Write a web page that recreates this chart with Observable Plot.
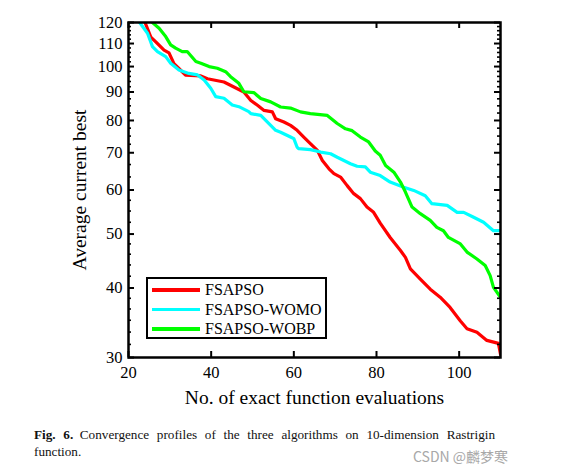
<!DOCTYPE html>
<html>
<head>
<meta charset="utf-8">
<script src="https://cdn.jsdelivr.net/npm/d3@7"></script>
<script src="https://cdn.jsdelivr.net/npm/@observablehq/plot@0.6"></script>
<style>
  html, body { margin: 0; padding: 0; background: #fff; }
  #wrap { position: relative; width: 567px; height: 473px; background: #fff; }
  #legend { position: absolute; left: 146px; top: 277px; width: 181px; height: 62px; box-sizing: border-box;
            border: 2.5px solid #000; background: #fff; font-family: "Liberation Serif", serif; font-size: 16px; }
  .row { position: absolute; left: 4px; height: 20px; display: flex; align-items: center; }
  .sw { width: 48px; height: 3.2px; margin-right: 5px; }
  .cap { position: absolute; font-family: "Liberation Serif", serif; font-size: 13.2px; line-height: 17px; color: #111; white-space: nowrap; }
  #cap1 { left: 34px; top: 426px; width: 461px; text-align: justify; text-align-last: justify; white-space: normal; }
  #cap2 { left: 34px; top: 443px; }
  #wm { position: absolute; left: 413px; top: 446px; font-family: "Noto Sans CJK SC", sans-serif; font-size: 14px; color: #a8a8a8; }
</style>
</head>
<body>
<div id="wrap"></div>
<script>
// ---- data ----
const seriesNames = ["FSAPSO", "FSAPSO-WOMO", "FSAPSO-WOBP"];
const seriesColors = ["#ff0000", "#00ffff", "#00ff00"];

const fsapsoX = [24,25.4,26.6,28.6,29.8,31,32.2,33.8,37.5,39.1,43.1,45.5,47.9,49.6,51.2,52.8,54.8,55.6,57.6,59.2,60.8,62.4,64,65.7,66.9,68.5,69.7,71.3,72.9,74.5,76.1,77.7,79.3,80.9,83.3,85.8,87,88.2,90.6,93,95.4,97.8,100.3,101.9,104.3,106.7,109.5,110];
const fsapsoY = [120,113,110.7,107,105.8,101.2,99.2,96.5,96.2,95.1,93.8,91.9,90,86.9,85.2,83.4,82.9,80.6,79.5,78.4,76.8,74.7,72.7,70.7,67.8,65.5,64.2,63.3,61.1,59.1,57.9,55.9,54.7,52.3,49.3,46.7,45.4,43.3,41.5,39.8,38.5,36.9,34.9,33.8,33.3,32.2,31.8,30.4];

const womoX = [22.7,24.6,25.8,27,29,30.2,32.2,34.6,36.7,38.3,39.9,41.1,43.1,45.1,46.7,49.1,49.6,52,54.4,55.6,56.8,59.2,60,60.8,61.2,64,66.5,68.9,70.5,72.1,73.7,75.3,77.3,78.5,80.9,83.3,86.6,89,91.8,93.4,97.1,99.5,101.1,103.5,105.9,108.3,110];
const womoY = [120,114.8,108.6,106.4,104.2,101.4,98.6,97.2,96.6,94.6,91.4,88.3,87.7,85.3,84.7,83,82.3,81.7,78.4,76.8,76.2,74.7,74.2,71.6,71.2,70.9,70.2,69.7,68.7,67.8,66.9,66.2,66,64.6,63.7,62,60.7,59.9,58.6,56.7,56.3,54.7,54.7,53.6,52.5,50.7,50.7];

const wobpX = [25.8,27.4,29,30.2,31.4,33,34.2,36.3,37.5,39.5,41.5,43.5,44.7,46.7,47.9,50.3,52,54.4,56.8,59.2,61.6,64,68.1,70.5,72.5,74.1,76.1,78.1,79.7,80.9,82.2,84.2,85.8,87,88.6,90.6,93,94.6,96.2,97.4,100.3,101.9,104.3,106.3,107.5,108.3,110];
const wobpY = [120,117.2,113.2,109.4,107.9,106.4,106.4,102.1,101.4,100,99.3,97.9,95.9,93.3,90.1,89.8,87.6,86.4,84.6,84.2,82.9,82.3,81.7,79,77.3,76.7,74.7,73.2,70.5,69.3,66.4,64.6,62,59.5,55.9,54.4,52.9,51.4,50.7,49.3,48,46.4,45.1,43.9,42.1,40.1,38.5];

const xTicks = [20, 40, 60, 80, 100];
const yTicks = [30, 40, 50, 60, 70, 80, 90, 100, 110, 120];
const yMinorTicks = [31.67,33.33,35,36.67,38.33,42,44,46,48,52.5,55,57.5,63.33,66.67,72.5,75,77.5,82.5,85,87.5,92,94,96,98,102,104,106,108,112,114,116,118];

const xLabel = "No. of exact function evaluations";
const yLabel = "Average current best";
const captionBold = "Fig. 6.";
const captionLine1 = "Convergence profiles of the three algorithms on 10-dimension Rastrigin";
const captionLine2 = "function.";
const watermark = "CSDN @麟梦寒";

// ---- build table ----
const rows = [];
[[fsapsoX, fsapsoY], [womoX, womoY], [wobpX, wobpY]].forEach(([xs, ys], i) => {
  xs.forEach((x, j) => rows.push({series: seriesNames[i], x, y: ys[j]}));
});

const W = 567, H = 410, mL = 128, mT = 22, mR = 67, mB = 53;
const frameW = W - mL - mR, frameH = H - mT - mB;
const serif = "Liberation Serif";
const majLen = 6, minLen = 3;

const chart = Plot.plot({
  width: W, height: H,
  marginLeft: mL, marginTop: mT, marginRight: mR, marginBottom: mB,
  style: {fontFamily: serif, background: "#fff", color: "#000"},
  x: {domain: [20, 110]},
  y: {type: "log", domain: [30, 120]},
  color: {domain: seriesNames, range: seriesColors},
  marks: [
    Plot.line(rows, {x: "x", y: "y", z: "series", stroke: "series", strokeWidth: 3.2, strokeLinejoin: "round", clip: true}),
    Plot.tickX(xTicks, {x: d => d, insetTop: frameH - majLen, stroke: "#000", strokeWidth: 2}),
    Plot.tickX(xTicks, {x: d => d, insetBottom: frameH - majLen, stroke: "#000", strokeWidth: 2}),
    Plot.tickY(yTicks, {y: d => d, insetRight: frameW - majLen, stroke: "#000", strokeWidth: 2}),
    Plot.tickY(yTicks, {y: d => d, insetLeft: frameW - majLen, stroke: "#000", strokeWidth: 2}),
    Plot.tickY(yMinorTicks, {y: d => d, insetRight: frameW - minLen, stroke: "#000", strokeWidth: 1.6}),
    Plot.tickY(yMinorTicks, {y: d => d, insetLeft: frameW - minLen, stroke: "#000", strokeWidth: 1.6}),
    Plot.frame({stroke: "#000", strokeWidth: 2.5}),
    Plot.axisX(xTicks, {anchor: "bottom", tickSize: 0, tickPadding: 9, fontSize: 16.5, fontFamily: serif, label: null, tickFormat: d => String(d)}),
    Plot.axisY(yTicks, {anchor: "left", tickSize: 0, tickPadding: 6, fontSize: 16.5, fontFamily: serif, label: null, tickFormat: d => String(d)}),
    Plot.text([xLabel], {text: d => d, frameAnchor: "bottom", dy: 40, lineAnchor: "middle", textAnchor: "middle", fontSize: 19.5, fontFamily: serif, fill: "#000"}),
    Plot.text([yLabel], {text: d => d, frameAnchor: "left", dx: -49, rotate: -90, lineAnchor: "middle", textAnchor: "middle", fontSize: 19.5, fontFamily: serif, fill: "#000"})
  ]
});

d3.select(chart).selectAll("text").style("font-family", "'Liberation Serif', serif").style("font-variant", "normal");

const wrap = document.getElementById("wrap");
wrap.appendChild(chart);

// legend
const legend = document.createElement("div");
legend.id = "legend";
seriesNames.forEach((name, i) => {
  const r = document.createElement("div");
  r.className = "row";
  r.style.top = (1 + i * 19.5) + "px";
  const sw = document.createElement("div");
  sw.className = "sw";
  sw.style.background = seriesColors[i];
  const t = document.createElement("span");
  t.textContent = name;
  r.appendChild(sw); r.appendChild(t);
  legend.appendChild(r);
});
wrap.appendChild(legend);

// caption
const cap1 = document.createElement("div");
cap1.className = "cap"; cap1.id = "cap1";
cap1.innerHTML = "<b>" + captionBold + "</b>\u2002" + captionLine1;
wrap.appendChild(cap1);
const cap2 = document.createElement("div");
cap2.className = "cap"; cap2.id = "cap2";
cap2.textContent = captionLine2;
wrap.appendChild(cap2);

const wm = document.createElement("div");
wm.id = "wm";
wm.textContent = watermark;
wrap.appendChild(wm);
</script>
</body>
</html>
